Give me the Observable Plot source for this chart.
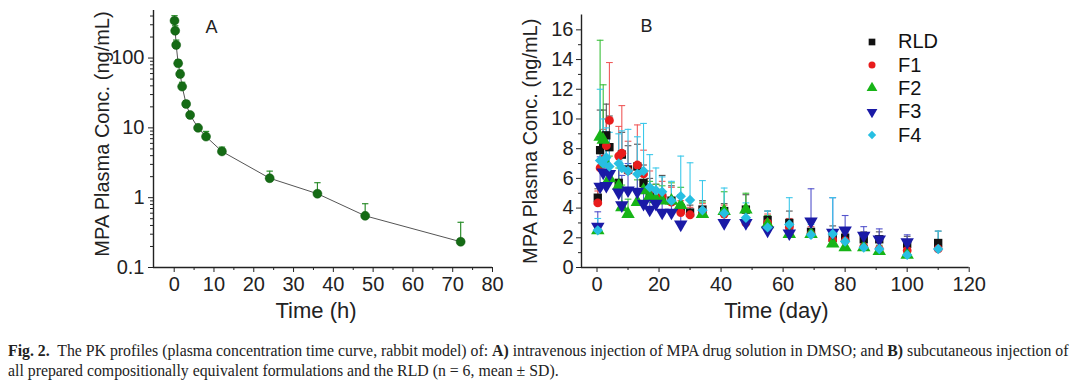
<!DOCTYPE html>
<html>
<head>
<meta charset="utf-8">
<script src="https://cdn.jsdelivr.net/npm/d3@7"></script>
<script src="https://cdn.jsdelivr.net/npm/@observablehq/plot@0.6"></script>
<style>
  html, body { margin: 0; padding: 0; background: #fff; }
  body { width: 1080px; height: 384px; position: relative; overflow: hidden; font-family: "Liberation Sans", Arial, sans-serif; }
  #panelA { position: absolute; left: 0; top: 0; }
  #panelB { position: absolute; left: 520px; top: 0; }
  #legend { position: absolute; left: 866px; top: 30px; font-size: 20px; color: #111; }
  #legend .row { display: flex; align-items: center; height: 23.4px; }
  #legend svg { margin-right: 20px; }
  #caption { position: absolute; left: 8px; top: 341px; font-family: "Liberation Serif", "Times New Roman", serif; font-size: 15.8px; line-height: 20px; color: #222; white-space: nowrap; }
</style>
</head>
<body>
<div id="panelA"></div>
<div id="panelB"></div>
<div id="legend"></div>
<div id="caption"><b>Fig. 2.</b>&nbsp; The PK profiles (plasma concentration time curve, rabbit model) of: <b>A)</b> intravenous injection of MPA drug solution in DMSO; and <b>B)</b> subcutaneous injection of<br>all prepared compositionally equivalent formulations and the RLD (n = 6, mean ± SD).</div>
<script>
// ---------- Panel A data (IV, hours) ----------
const timeH  = [0.083, 0.25, 0.5, 1, 1.5, 2, 3, 4, 6, 8, 12, 24, 36, 48, 72];
const ivMean = [343, 246, 154, 84, 59, 39, 22, 15.3, 10, 7.5, 4.6, 1.9, 1.14, 0.55, 0.234];
const ivSd   = [62, 44, 27, 10, 8, 6, 2.5, 1.3, 0.5, 1.4, 0.7, 0.5, 0.5, 0.27, 0.21];

// ---------- Panel B data (SC, days) ----------
const days = [0.25, 1, 2, 3, 4, 7, 8, 10, 13, 15, 17, 19, 21, 24, 27, 30, 34, 41, 48, 55, 62, 69, 76, 80, 86, 91, 100, 110];
const rld   = [4.7, 7.9, 8.4, 8.9, 8.1, 5.7, 7.6, 6.6, 6.8, 5.7, 4.8, 4.6, 4.7, 4.5, 4.0, 3.7, 3.9, 3.8, 3.9, 3.2, 3.0, 2.4, 2.0, 2.0, 1.9, 1.9, 1.6, 1.65];
const rldSd = [0.6, 2.7, 2.2, 2.1, 2.1, 1.8, 1.5, 1.6, 1.5, 1.2, 1.2, 1.0, 1.5, 1.0, 0.9, 0.5, 0.6, 0.5, 1.0, 0.6, 0.8, 0.7, 0.8, 0.6, 0.5, 0.5, 0.5, 0.8];
const f1    = [4.35, 6.7, 7.3, 8.2, 9.9, 7.5, 7.7, 6.5, 6.9, 6.3, 5.2, 4.6, 4.8, 4.4, 3.7, 3.55, 3.8, 3.6, 3.0, 3.0, 2.7, 2.25, 1.85, 1.8, 1.4, 1.25, 1.15, 1.25];
const f1Sd  = [0.8, 2.0, 2.0, 1.8, 3.9, 2.0, 3.2, 2.0, 2.7, 1.6, 1.3, 1.0, 1.0, 1.0, 0.8, 0.5, 0.5, 0.6, 0.7, 0.6, 0.6, 0.5, 0.4, 0.5, 0.5, 0.6, 0.6, 0.6];
const f2    = [2.5, 8.8, 8.6, 7.0, 6.0, 5.5, 4.05, 3.6, 4.4, 5.2, 4.8, 4.6, 4.5, 4.5, 4.2, null, 3.6, 3.8, 3.9, 2.9, 2.25, 2.25, 1.6, 1.35, 1.35, 1.1, 0.85, null];
const f2Sd  = [0.3, 6.5, 3.7, 2.0, 1.5, 1.2, 1.5, 1.0, 1.5, 1.2, 1.0, 1.0, 1.0, 1.2, 1.2, null, 0.8, 1.3, 1.1, 0.6, 0.8, 0.8, 0.5, 0.5, 0.5, 0.4, 0.4, null];
const f3    = [2.75, 5.45, 6.4, 5.5, 6.3, 5.05, 4.2, 5.2, 5.1, 4.3, 3.9, 4.3, 3.7, 3.7, 2.9, null, null, 3.0, 3.0, 2.5, 2.3, 3.1, 2.35, 2.5, 2.15, 1.9, 1.7, null];
const f3Sd  = [1.0, 2.0, 2.5, 2.5, 2.0, 2.0, 2.0, 1.8, 1.5, 1.2, 1.0, 1.0, 0.9, 0.8, 1.0, null, null, 1.0, 0.8, 0.9, 0.8, 2.2, 2.35, 1.0, 0.6, 0.7, 0.5, null];
const f4    = [2.5, 7.2, 7.0, 7.4, 6.8, 7.0, 6.7, 6.5, 6.3, 6.5, 5.4, 5.2, 5.1, 4.5, 4.8, 4.55, 3.85, 3.65, 3.35, 2.7, 2.9, 2.2, 2.25, 1.75, 1.35, 1.25, 0.85, 1.25];
const f4Sd  = [0.8, 4.8, 3.0, 2.0, 2.3, 2.0, 2.5, 2.8, 2.5, 3.2, 2.2, 1.5, 1.0, 1.3, 2.7, 2.5, 2.0, 1.7, 1.0, 1.1, 1.8, 0.7, 2.45, 0.6, 0.6, 0.6, 0.5, 1.2];

const seriesNames = ["RLD", "F1", "F2", "F3", "F4"];
const seriesMeans = [rld, f1, f2, f3, f4];
const seriesSds   = [rldSd, f1Sd, f2Sd, f3Sd, f4Sd];

// ticks
const xTicksA = [0, 10, 20, 30, 40, 50, 60, 70, 80];
const xMinorA = [5, 15, 25, 35, 45, 55, 65, 75];
const yTicksA = [0.1, 1, 10, 100];
const xTicksB = [0, 20, 40, 60, 80, 100, 120];
const xMinorB = [10, 30, 50, 70, 90, 110];
const yTicksB = [0, 2, 4, 6, 8, 10, 12, 14, 16];
const yMinorB = [1, 3, 5, 7, 9, 11, 13, 15];

// ---------- styles ----------
const downTriangle = {
  draw(ctx, size) {
    const y = -Math.sqrt(size / (Math.sqrt(3) * 3));
    ctx.moveTo(0, -y * 2);
    ctx.lineTo(-Math.sqrt(3) * y, y);
    ctx.lineTo(Math.sqrt(3) * y, y);
    ctx.closePath();
  }
};
const capSymbol = {
  draw(ctx, size) {
    const w = Math.sqrt(size) / 2;
    ctx.moveTo(-w, 0);
    ctx.lineTo(w, 0);
  }
};
const markColor = {RLD: "#111111", F1: "#e81c1c", F2: "#17b417", F3: "#1a1aa6", F4: "#27bfe2"};
const barColor  = {RLD: "#555555", F1: "#ef5a5a", F2: "#3cc03c", F3: "#5454cc", F4: "#3cc8ea"};
const markSymbol = {RLD: "square", F1: "circle", F2: "triangle", F3: downTriangle, F4: "diamond2"};
const markR = {RLD: 4.7, F1: 4.4, F2: 5, F3: 5, F4: 4.7};

const font = "'Liberation Sans', Arial, sans-serif";

// ---------- Panel A ----------
const ivData = timeH.map((t, i) => ({t, mean: ivMean[i], top: ivMean[i] + ivSd[i]}));
const minorLogA = [];
for (let e = -1; e <= 2; e++) for (let k = 2; k <= 9; k++) { const v = k * Math.pow(10, e); if (v <= 480) minorLogA.push(+v.toPrecision(3)); }
const xDomA = [-5.2, 80], yDomA = [0.1, 480];

const plotA = Plot.plot({
  width: 520, height: 330,
  marginLeft: 153, marginRight: 28, marginTop: 10, marginBottom: 63,
  style: {fontFamily: font, color: "#222", background: "transparent", overflow: "visible"},
  x: {domain: xDomA, label: null},
  y: {type: "log", domain: yDomA, label: null},
  marks: [
    Plot.axisX({ticks: xTicksA, tickSize: 5, tickPadding: 4, fontSize: 20, tickFormat: d => String(d), label: null, stroke: "#222"}),
    Plot.axisX({ticks: xMinorA, tickSize: 3, tickFormat: () => "", label: null, stroke: "#222"}),
    Plot.axisY({ticks: yTicksA, tickSize: 5, tickPadding: 4, fontSize: 20, tickFormat: d => String(d), label: null, stroke: "#222"}),
    Plot.axisY({ticks: minorLogA, tickSize: 3, tickFormat: () => "", label: null, stroke: "#222"}),
    Plot.ruleX([xDomA[0]], {stroke: "#222", strokeWidth: 1.4}),
    Plot.ruleY([yDomA[0]], {stroke: "#222", strokeWidth: 1.4}),
    Plot.line(ivData, {x: "t", y: "mean", stroke: "#555", strokeWidth: 1}),
    Plot.ruleX(ivData, {x: "t", y1: "mean", y2: "top", stroke: "#2f8f2f", strokeWidth: 1.2}),
    Plot.dot(ivData, {x: "t", y: "top", symbol: capSymbol, r: 3.6, stroke: "#2f8f2f", fill: "none", strokeWidth: 1.2}),
    Plot.dot(ivData, {x: "t", y: "mean", r: 4.5, fill: "#156b15", stroke: "#0f5a0f", strokeWidth: 0.5}),
    Plot.text(["A"], {frameAnchor: "top-left", dx: 58, dy: 10, fontSize: 18, textAnchor: "middle", fill: "#222"}),
    Plot.text(["Time (h)"], {frameAnchor: "bottom", dx: -7, dy: 50, fontSize: 22, textAnchor: "middle", fill: "#222"}),
    Plot.text(["MPA Plasma Conc. (ng/mL)"], {frameAnchor: "left", dx: -51, dy: -5, rotate: -90, fontSize: 20, textAnchor: "middle", fill: "#222"})
  ]
});
document.getElementById("panelA").appendChild(plotA);

// ---------- Panel B ----------
const scData = [];
seriesNames.forEach((name, s) => {
  days.forEach((d, i) => {
    const m = seriesMeans[s][i];
    if (m == null) return;
    scData.push({series: name, day: d, mean: m, top: m + seriesSds[s][i]});
  });
});
const xDomB = [-5, 120], yDomB = [0, 17];
const barMarks = [], dotMarks = [];
seriesNames.forEach(name => {
  const sub = scData.filter(d => d.series === name);
  barMarks.push(Plot.ruleX(sub, {x: "day", y1: "mean", y2: "top", stroke: barColor[name], strokeWidth: 1.1}));
  barMarks.push(Plot.dot(sub, {x: "day", y: "top", symbol: capSymbol, r: 3.8, stroke: barColor[name], fill: "none", strokeWidth: 1.1}));
  dotMarks.push(Plot.dot(sub, {x: "day", y: "mean", symbol: markSymbol[name], r: markR[name], fill: markColor[name], stroke: "none"}));
});

const plotB = Plot.plot({
  width: 520, height: 330,
  marginLeft: 61, marginRight: 71.3, marginTop: 14.5, marginBottom: 63,
  style: {fontFamily: font, color: "#222", background: "transparent", overflow: "visible"},
  x: {domain: xDomB, label: null},
  y: {domain: yDomB, label: null},
  marks: [
    Plot.axisX({ticks: xTicksB, tickSize: 5, tickPadding: 4, fontSize: 20, tickFormat: d => String(d), label: null, stroke: "#222"}),
    Plot.axisX({ticks: xMinorB, tickSize: 3, tickFormat: () => "", label: null, stroke: "#222"}),
    Plot.axisY({ticks: yTicksB, tickSize: 5, tickPadding: 3, fontSize: 20, tickFormat: d => String(d), label: null, stroke: "#222"}),
    Plot.axisY({ticks: yMinorB, tickSize: 3, tickFormat: () => "", label: null, stroke: "#222"}),
    Plot.ruleX([xDomB[0]], {stroke: "#222", strokeWidth: 1.4}),
    Plot.ruleY([yDomB[0]], {stroke: "#222", strokeWidth: 1.4}),
    ...barMarks,
    ...dotMarks,
    Plot.text(["B"], {frameAnchor: "top-left", dx: 65, dy: 4, fontSize: 18, textAnchor: "middle", fill: "#222"}),
    Plot.text(["Time (day)"], {frameAnchor: "bottom", dx: 1, dy: 50, fontSize: 22, textAnchor: "middle", fill: "#222"}),
    Plot.text(["MPA Plasma Conc. (ng/mL)"], {frameAnchor: "left", dx: -51, dy: 0, rotate: -90, fontSize: 20, textAnchor: "middle", fill: "#222"})
  ]
});
document.getElementById("panelB").appendChild(plotB);

// ---------- Legend ----------
const legend = d3.select("#legend");
const d3Types = {square: d3.symbolSquare, circle: d3.symbolCircle, triangle: d3.symbolTriangle, diamond2: d3.symbolDiamond2};
seriesNames.forEach(name => {
  const row = legend.append("div").attr("class", "row");
  const svg = row.append("svg").attr("width", 12).attr("height", 12);
  const r = markR[name] * 0.8;
  const t = markSymbol[name];
  svg.append("path")
    .attr("transform", "translate(6,6)")
    .attr("d", d3.symbol().type(typeof t === "string" ? d3Types[t] : t).size(Math.PI * r * r)())
    .attr("fill", markColor[name]);
  row.append("span").text(name);
});
</script>
</body>
</html>
